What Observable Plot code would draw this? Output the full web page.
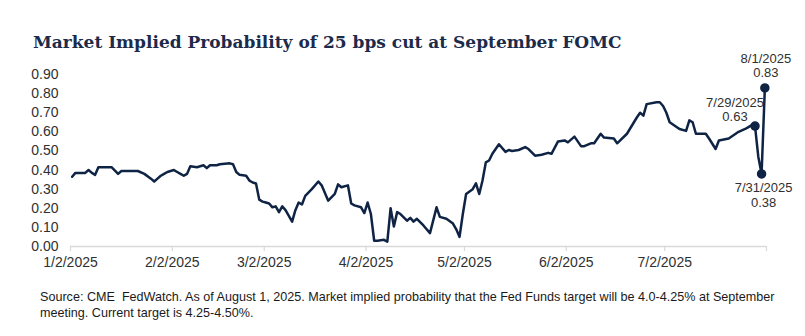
<!DOCTYPE html>
<html>
<head>
<meta charset="utf-8">
<script src="https://cdn.jsdelivr.net/npm/d3@7"></script>
<script src="https://cdn.jsdelivr.net/npm/@observablehq/plot@0.6"></script>
<style>
  html, body { margin: 0; padding: 0; background: #fff; }
  #wrap { position: relative; width: 805px; height: 336px; overflow: hidden; background: #fff; }
  #title { position: absolute; left: 33px; top: 31px; font-family: "DejaVu Serif", serif; font-weight: bold; font-size: 17px; color: #1c2b4b; white-space: nowrap; line-height: 22px; }
  #chart { position: absolute; left: 0; top: 60px; }
  #caption { position: absolute; left: 40px; top: 289px; font-family: "Liberation Sans", Arial, sans-serif; font-size: 12.6px; line-height: 16px; color: #1a1a1a; white-space: nowrap; }
</style>
</head>
<body>
<div id="wrap">
  <div id="title">Market Implied Probability of 25 bps cut at September FOMC</div>
  <div id="chart"></div>
  <div id="caption">Source: CME&nbsp; FedWatch. As of August 1, 2025. Market implied probability that the Fed Funds target will be 4.0-4.25% at September<br>meeting. Current target is 4.25-4.50%.</div>
</div>
<script>
const dates = [
  "2025-01-02","2025-01-03","2025-01-06","2025-01-07","2025-01-08","2025-01-09","2025-01-10","2025-01-14","2025-01-16","2025-01-17",
  "2025-01-22","2025-01-24","2025-01-26","2025-01-27","2025-01-28","2025-01-29","2025-01-30","2025-01-31","2025-02-02","2025-02-03",
  "2025-02-04","2025-02-05","2025-02-06","2025-02-07","2025-02-09","2025-02-10","2025-02-11","2025-02-12","2025-02-13","2025-02-15",
  "2025-02-16","2025-02-19","2025-02-20","2025-02-21","2025-02-22","2025-02-24","2025-02-25","2025-02-26","2025-02-27","2025-02-28",
  "2025-03-01","2025-03-02","2025-03-03","2025-03-04","2025-03-05","2025-03-06","2025-03-07","2025-03-08","2025-03-10","2025-03-11",
  "2025-03-12","2025-03-13","2025-03-14","2025-03-16","2025-03-18","2025-03-19","2025-03-21","2025-03-23","2025-03-24","2025-03-25",
  "2025-03-27","2025-03-28","2025-03-29","2025-03-31","2025-04-01","2025-04-02","2025-04-03","2025-04-04","2025-04-05","2025-04-07",
  "2025-04-08","2025-04-09","2025-04-10","2025-04-11","2025-04-12","2025-04-14","2025-04-15","2025-04-16","2025-04-17","2025-04-19",
  "2025-04-21","2025-04-23","2025-04-24","2025-04-26","2025-04-28","2025-04-29","2025-04-30","2025-05-01","2025-05-02","2025-05-04",
  "2025-05-05","2025-05-06","2025-05-07","2025-05-08","2025-05-09","2025-05-10","2025-05-12","2025-05-14","2025-05-15","2025-05-16",
  "2025-05-18","2025-05-20","2025-05-21","2025-05-23","2025-05-25","2025-05-27","2025-05-28","2025-05-30","2025-06-01","2025-06-02",
  "2025-06-04","2025-06-06","2025-06-07","2025-06-09","2025-06-10","2025-06-12","2025-06-13","2025-06-16","2025-06-17","2025-06-20",
  "2025-06-23","2025-06-24","2025-06-25","2025-06-26","2025-06-29","2025-06-30","2025-07-01","2025-07-02","2025-07-03","2025-07-06",
  "2025-07-08","2025-07-09","2025-07-10","2025-07-11","2025-07-14","2025-07-15","2025-07-17","2025-07-18","2025-07-21","2025-07-24",
  "2025-07-26","2025-07-27","2025-07-28","2025-07-29","2025-07-30","2025-07-31","2025-08-01"
];
const probs = [
  0.365,0.385,0.385,0.40,0.385,0.375,0.415,0.415,0.38,0.395,
  0.395,0.38,0.355,0.34,0.355,0.37,0.38,0.39,0.40,0.39,
  0.38,0.37,0.38,0.42,0.415,0.42,0.425,0.41,0.425,0.425,
  0.43,0.435,0.43,0.39,0.375,0.37,0.345,0.335,0.33,0.245,
  0.235,0.23,0.225,0.205,0.21,0.18,0.21,0.19,0.13,0.19,
  0.23,0.22,0.265,0.30,0.34,0.32,0.24,0.275,0.325,0.31,
  0.32,0.225,0.215,0.205,0.175,0.23,0.17,0.03,0.03,0.035,
  0.025,0.20,0.105,0.18,0.17,0.135,0.15,0.13,0.145,0.11,
  0.07,0.205,0.155,0.145,0.12,0.09,0.05,0.17,0.275,0.30,
  0.33,0.275,0.345,0.44,0.45,0.485,0.535,0.495,0.505,0.50,
  0.505,0.52,0.51,0.475,0.48,0.49,0.485,0.55,0.555,0.545,
  0.575,0.525,0.525,0.54,0.54,0.59,0.57,0.565,0.54,0.59,
  0.675,0.70,0.685,0.745,0.755,0.755,0.735,0.70,0.65,0.615,
  0.605,0.66,0.65,0.59,0.59,0.565,0.51,0.555,0.565,0.60,
  0.615,0.625,0.635,0.63,0.47,0.38,0.83
];
const annoDates = ["2025-07-29","2025-07-31","2025-08-01"];
const annoValues = [0.63, 0.38, 0.83];
const annoLabels = ["7/29/2025\n0.63","7/31/2025\n0.38","8/1/2025\n0.83"];
const xTickDates = ["2025-01-02","2025-02-02","2025-03-02","2025-04-02","2025-05-02","2025-06-02","2025-07-02","2025-08-02"];
const xTickLabels = ["1/2/2025","2/2/2025","3/2/2025","4/2/2025","5/2/2025","6/2/2025","7/2/2025",""];
const yTicks = [0,0.1,0.2,0.3,0.4,0.5,0.6,0.7,0.8,0.9];

const parse = d3.utcParse("%Y-%m-%d");
const mid = s => d3.utcHour.offset(parse(s), 12);
const data = dates.map((d, i) => ({date: mid(d), value: probs[i]}));
const anno = annoDates.map((d, i) => ({date: mid(d), value: annoValues[i], label: annoLabels[i]}));
const xTicks = xTickDates.map(parse);
const labelMap = new Map(xTicks.map((t, i) => [+t, xTickLabels[i]]));
const navy = "#0f2444";
const txt = "#303030";

const chart = Plot.plot({
  width: 805,
  height: 220,
  marginLeft: 70,
  marginRight: 39,
  marginTop: 14,
  marginBottom: 34,
  style: {fontFamily: "'Liberation Sans', Arial, sans-serif", fontSize: "14px", color: txt, background: "white", overflow: "visible"},
  x: {type: "utc", domain: [parse("2025-01-02"), parse("2025-08-02")], label: null},
  y: {domain: [0, 0.9], label: null},
  marks: [
    Plot.ruleY([0], {stroke: "#d9d9d9", strokeWidth: 1.5}),
    Plot.axisX({ticks: xTicks, tickFormat: d => labelMap.get(+d), tickSize: 5, stroke: "#d9d9d9", strokeWidth: 1.2, tickPadding: 6, fill: txt, fontSize: 14, label: null}),
    Plot.axisY({ticks: yTicks, tickFormat: d3.format(".2f"), tickSize: 0, tickPadding: 12, fill: txt, fontSize: 14, label: null}),
    Plot.line(data, {x: "date", y: "value", stroke: navy, strokeWidth: 2.5, strokeLinejoin: "round"}),
    Plot.dot(anno, {x: "date", y: "value", r: 4, fill: navy, stroke: navy}),
    Plot.text(anno.filter(d => d.value === 0.63), {x: "date", y: "value", text: "label", dx: -20, dy: -5, lineAnchor: "bottom", fontSize: 13, fill: txt, lineHeight: 1.05}),
    Plot.text(anno.filter(d => d.value === 0.38), {x: "date", y: "value", text: "label", dx: 2, dy: 8, lineAnchor: "top", fontSize: 13, fill: txt, lineHeight: 1.12}),
    Plot.text(anno.filter(d => d.value === 0.83), {x: "date", y: "value", text: "label", dx: 1, dy: -11, lineAnchor: "bottom", fontSize: 13, fill: txt, lineHeight: 1.08})
  ]
});
document.getElementById("chart").appendChild(chart);
</script>
</body>
</html>
